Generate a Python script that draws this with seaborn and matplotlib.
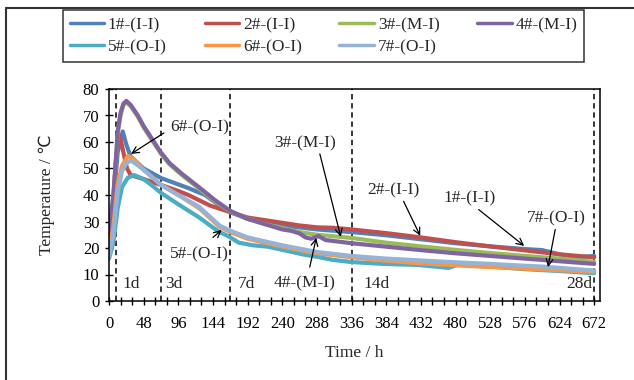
import numpy as np
import pandas as pd
import matplotlib
matplotlib.use("Agg")
import matplotlib.pyplot as plt
import seaborn as sns
from matplotlib.lines import Line2D

sns.set_style("ticks")
plt.rcParams['font.family'] = ['Liberation Serif', 'DejaVu Sans']

# ---------------- data ----------------
names = ["1#-(I-I)", "2#-(I-I)", "3#-(M-I)", "4#-(M-I)", "5#-(O-I)", "6#-(O-I)", "7#-(O-I)"]
colors = ["#4F81BD", "#C0504D", "#9BBB59", "#8064A2", "#4BACC6", "#F79646", "#95B3D7"]

t1 = [0, 6, 12, 19, 24, 30, 48, 72, 96, 110, 133, 153, 168, 192, 240, 288, 336, 384, 432, 480, 528, 576, 600, 624, 648, 672]
v1 = [20, 36, 56, 64, 59, 54.5, 50, 46.4, 44, 42.6, 40, 36, 33.5, 31, 28.5, 27, 26, 24.8, 23.3, 21.8, 20.6, 19.6, 19.2, 17.6, 16.5, 17]

t2 = [0, 6, 10, 15, 20, 25, 30, 48, 72, 96, 110, 140, 168, 192, 216, 240, 264, 288, 312, 336, 384, 432, 480, 528, 576, 624, 672]
v2 = [22, 38, 55, 62.3, 56, 50, 47.5, 46, 43.8, 41.5, 40, 36, 33.5, 31.5, 30.5, 29.5, 28.5, 27.8, 27.6, 27, 25.6, 24, 22.2, 20.6, 19.1, 17.6, 16.5]

t3 = [0, 6, 10, 12, 16, 20, 24, 30, 40, 48, 60, 72, 84, 101, 115, 129, 147, 168, 192, 216, 240, 264, 288, 336, 384, 432, 480, 528, 576, 624, 672]
v3 = [24, 39, 54, 63, 70, 74, 75, 73.5, 69.5, 65.5, 60.5, 55.5, 51.5, 47.5, 44.5, 41.5, 37.5, 33.8, 31, 29, 27.5, 26, 25, 23.8, 22, 20.6, 19.3, 18.1, 17, 16, 14.8]

t4 = [0, 6, 10, 12, 16, 20, 24, 30, 40, 48, 60, 72, 84, 101, 115, 129, 147, 168, 180, 192, 204, 216, 228, 240, 252, 264, 272, 280, 290, 300, 336, 384, 432, 480, 528, 576, 624, 672]
v4 = [25, 40, 55, 64, 71, 74.5, 75.5, 74, 70, 66, 61, 56, 52, 48, 45, 42, 38, 34, 32.5, 31, 30, 29, 28, 27, 26.5, 25.5, 24, 23.5, 24.5, 23, 21.8, 20.5, 19.2, 18, 17, 16, 15, 14]

t5 = [0, 6, 12, 18, 26, 35, 48, 60, 72, 96, 125, 140, 153, 165, 180, 200, 220, 245, 270, 290, 310, 336, 380, 428, 470, 483, 528, 576, 624, 672]
v5 = [16, 22, 35, 43, 46.5, 47.5, 46, 43.5, 40.8, 36.5, 31.5, 28.5, 26, 24.5, 22, 21, 20.5, 19, 17.5, 16.6, 15.5, 14.7, 14, 13.6, 12.5, 13.6, 13, 12, 11.3, 10.5]

t6 = [0, 6, 12, 18, 26, 32, 40, 48, 72, 96, 125, 153, 168, 192, 240, 288, 336, 384, 432, 480, 528, 576, 624, 672]
v6 = [18, 28, 44, 51, 54.7, 54, 52, 49.5, 43.8, 40, 35, 28, 26, 23.5, 20.5, 18, 16.5, 15.2, 14.2, 13.5, 12.8, 12.2, 11.6, 11]

t7 = [0, 6, 12, 18, 24, 30, 36, 48, 72, 96, 125, 153, 168, 192, 240, 288, 336, 384, 432, 480, 528, 576, 600, 624, 672]
v7 = [17, 25, 41, 49, 52, 53, 52, 49.5, 43.8, 40, 35.5, 28.5, 26.5, 24, 21, 18.5, 17, 16, 15.3, 14.6, 14, 13.3, 13, 12.5, 11.5]

x_ticks = [0, 48, 96, 144, 192, 240, 288, 336, 384, 432, 480, 528, 576, 624, 672]
y_ticks = [0, 10, 20, 30, 40, 50, 60, 70, 80]
age_lines = [10, 72, 168, 336, 672]
age_labels = ["1d", "3d", "7d", "14d", "28d"]

times = [t1, t2, t3, t4, t5, t6, t7]
temps = [v1, v2, v3, v4, v5, v6, v7]

df = pd.concat([pd.DataFrame({"Time": t, "Temp": v, "Series": n})
                for t, v, n in zip(times, temps, names)], ignore_index=True)

# ---------------- figure ----------------
fig = plt.figure(figsize=(6.34, 3.80), dpi=100)
ax = fig.add_axes([109/634, 79/380, 491/634, 212/380])

sns.lineplot(data=df, x="Time", y="Temp", hue="Series", hue_order=names,
             palette=dict(zip(names, colors)), linewidth=3, estimator=None,
             sort=False, legend=False, ax=ax)

for xl in age_lines:
    ax.axvline(xl, color="black", lw=1.1, ls=(0, (3.5, 2.5)), zorder=1)

lab_x = [18, 78, 178, 352, 669]
lab_ha = ["left", "left", "left", "left", "right"]
for x, s, ha in zip(lab_x, age_labels, lab_ha):
    ax.text(x, 6.5, s, ha=ha, va="center", fontsize=12.5)

ann = [
    ("6#-(O-I)", (125, 65.7), (76, 63.4), (30.5, 55.5)),
    ("3#-(M-I)", (272, 59.6), (292, 55.5), (321, 24.2)),
    ("2#-(I-I)", (394, 41.9), (408, 37.6), (431, 24.6)),
    ("1#-(I-I)", (499, 38.9), (512, 34.5), (575, 20.8)),
    ("7#-(O-I)", (619, 31.3), (618, 27.0), (608, 12.8)),
    ("5#-(O-I)", (125, 17.4), (144, 24.0), (156, 26.8)),
    ("4#-(M-I)", (271, 6.8), (278, 12.8), (287, 23.8)),
]
for txt, tpos, a0, a1 in ann:
    ax.text(tpos[0], tpos[1], txt, ha="center", va="center", fontsize=12.5)
    ax.annotate("", xy=a1, xytext=a0,
                arrowprops=dict(arrowstyle="->", color="black", lw=0.9,
                                mutation_scale=12, shrinkA=0, shrinkB=0))

ax.set_xlim(0, 680)
ax.set_ylim(0, 80)
ax.set_xticks(x_ticks)
ax.set_xticks(np.arange(0, 681, 16), minor=True)
ax.set_yticks(y_ticks)
ax.tick_params(axis="both", which="both", direction="inout", length=6,
               width=1, labelsize=12, colors="black", pad=4)
ax.tick_params(axis="x", which="major", pad=8)
for s in ax.spines.values():
    s.set_color("black")
    s.set_linewidth(1.1)
ax.set_xlabel("Time / h", fontsize=12.5, labelpad=9)
ax.set_ylabel("Temperature / ℃", fontsize=12.5, labelpad=20)

# legend filled row by row (matplotlib fills columns first)
order = [0, 4, 1, 5, 2, 6, 3]
handles = [Line2D([], [], color=colors[i], lw=2.5) for i in order]
labels = [names[i] for i in order]
leg = fig.legend(handles, labels, ncol=4, loc="lower left",
                 bbox_to_anchor=(54/634, 1 - 71/380, 539/634, 56/380),
                 mode="expand", frameon=True, fancybox=False, fontsize=12.5,
                 handlelength=2.0, handletextpad=0.2, borderpad=0.4,
                 labelspacing=0.35, columnspacing=1.0)
leg.get_frame().set_edgecolor("black")
leg.get_frame().set_linewidth(1.1)

# outer frame (left and top)
fig.add_artist(Line2D([6/634, 6/634], [0, 1 - 8/380], transform=fig.transFigure,
                      color="#333333", lw=1.5))
fig.add_artist(Line2D([6/634, 1], [1 - 8/380, 1 - 8/380], transform=fig.transFigure,
                      color="#333333", lw=1.5))

fig.savefig("out.png", dpi=100)
